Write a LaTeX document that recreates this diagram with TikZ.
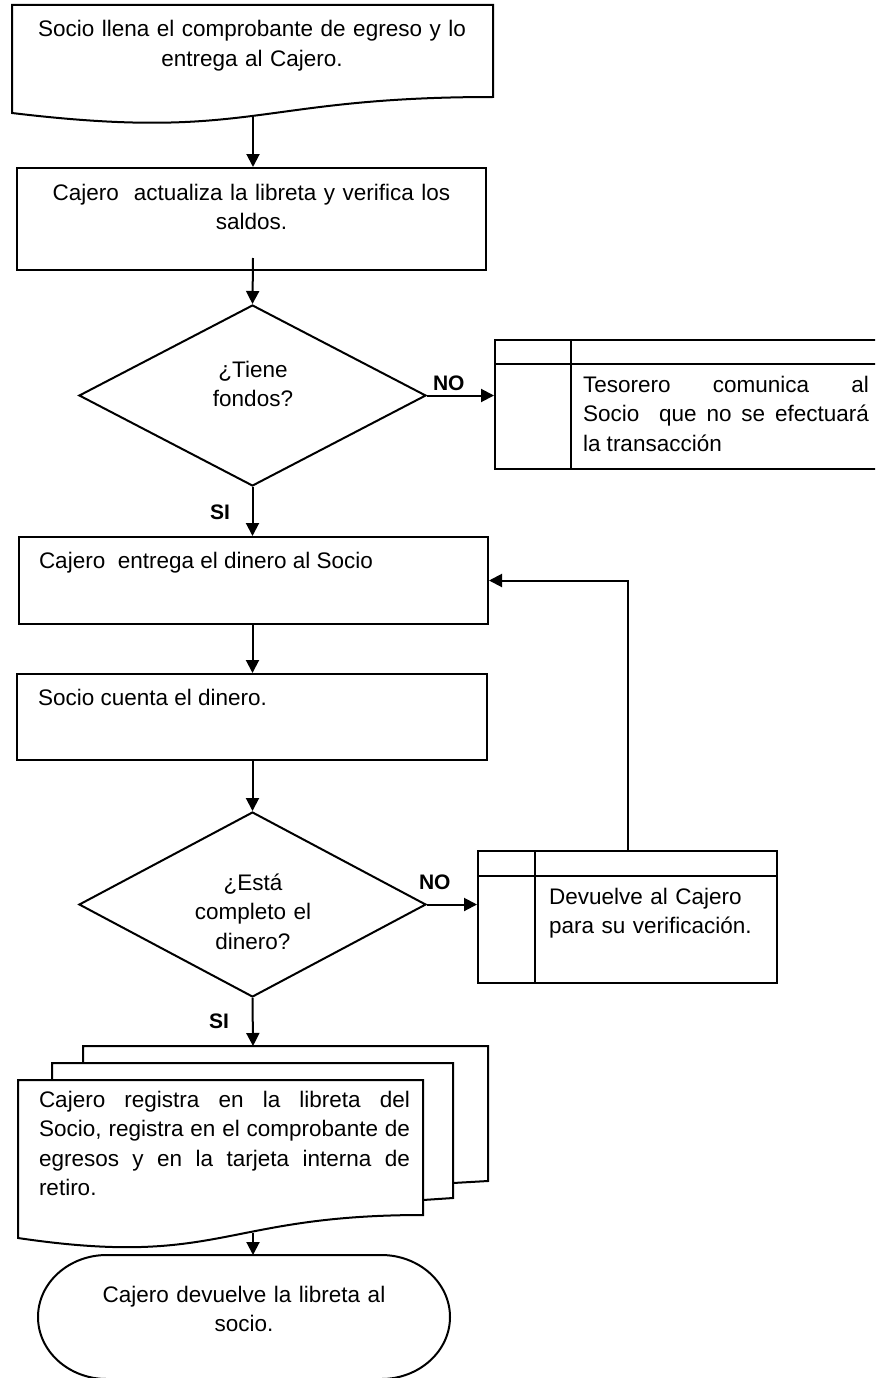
\documentclass[tikz,border=0pt]{standalone}
\usepackage{fontspec}
\setmainfont{Liberation Sans}
\usetikzlibrary{shapes.geometric,arrows.meta}
\hbadness=10000

\begin{document}
\begin{tikzpicture}[x=1pt,y=-1pt,line width=2pt,
    flecha/.style={-{Triangle[length=13pt,width=13pt]}},
    caja/.style={draw,rectangle,inner sep=0pt},
    rombo/.style={draw,diamond,inner sep=0pt},
    texto/.style={font=\fontsize{22.5}{29.5}\selectfont,inner sep=0pt},
    etiq/.style={font=\fontsize{21}{25}\selectfont\bfseries,inner sep=0pt}]
  \useasboundingbox (0,0) rectangle (875,1378);
  \clip (0,0) rectangle (875,1378);

  % documento inicial
  \draw (12,5) -- (493,5) -- (493,97) .. controls (253,97) and (253,142) .. (12,113) -- cycle;
  \node[texto,anchor=base,align=center,text width=470pt] (llena) at (252,37)
    {Socio llena el comprobante de egreso y lo\\entrega al Cajero.};
  \coordinate (llenafin) at (253,117);

  \node[caja,minimum width=469pt,minimum height=102pt] (actualiza) at (251.5,219) {};
  \node[texto,anchor=base,align=center,text width=460pt] (actualizatxt) at (251.5,200)
    {Cajero\ \ actualiza la libreta y verifica los\\saldos.};
  \coordinate (actualizafin) at (253,258);
  \draw[flecha] (llenafin) -- (llenafin |- actualiza.north);

  % primera decision
  \node[rombo,minimum width=347pt,minimum height=181pt] (tiene) at (252.5,395.5) {};
  \node[texto,anchor=base,align=center,text width=200pt] (tienetxt) at (253,377) {¿Tiene\\fondos?};
  \draw[flecha] (actualizafin) -- (tiene.north);

  \node[caja,minimum width=406pt,minimum height=129pt,anchor=north west] (tesorero) at (494,339) {};
  \draw ([yshift=-25pt]tesorero.north west) -- ([yshift=-25pt]tesorero.north east);
  \draw ([xshift=77pt]tesorero.north west) -- ([xshift=77pt]tesorero.south west);
  \node[texto,anchor=base west,text width=286pt,align=justify] (tesorerotxt) at (582,392)
    {Tesorero comunica al\linebreak Socio\ \ que no se efectuará\linebreak la transacción};
  \node[etiq,anchor=base west] (no1) at (432,390) {NO};
  \draw[flecha] (tiene.east) -- (tiene.east -| tesorero.west);

  \node[caja,minimum width=469pt,minimum height=87pt] (entrega) at (253.5,580.5) {};
  \node[texto,anchor=base west] (entregatxt) at (38,568) {Cajero\ \ entrega el dinero al Socio};
  \node[etiq,anchor=base west] (si1) at (209,519) {SI};
  \draw[flecha] (tiene.south) -- (tiene.south |- entrega.north);

  \node[caja,minimum width=470pt,minimum height=86pt] (cuenta) at (252,717) {};
  \node[texto,anchor=base west] (cuentatxt) at (37,705) {Socio cuenta el dinero.};
  \draw[flecha] (tiene.south |- entrega.south) -- (tiene.south |- cuenta.north);

  % segunda decision
  \node[rombo,minimum width=347pt,minimum height=185pt] (completo) at (252.5,904.5) {};
  \node[texto,anchor=base,align=center,text width=200pt] (completotxt) at (253,890)
    {¿Está\\completo el\\dinero?};
  \draw[flecha] (tiene.south |- cuenta.south) -- (completo.north);

  \node[caja,minimum width=299pt,minimum height=132pt] (devuelve) at (627.5,917) {};
  \draw ([yshift=-26pt]devuelve.north west) -- ([yshift=-26pt]devuelve.north east);
  \draw ([xshift=58pt]devuelve.north west) -- ([xshift=58pt]devuelve.south west);
  \node[texto,anchor=base west,align=left,text width=225pt] (devuelvetxt) at (548,904)
    {Devuelve al Cajero\\para su verificación.};
  \node[etiq,anchor=base west] (no2) at (418,889) {NO};
  \draw[flecha] (completo.east) -- (completo.east -| devuelve.west);
  \draw[flecha] (devuelve.north) |- (entrega.east);

  % multidocumento
  \draw (83,1063) -- (83,1046) -- (488,1046) -- (488,1181) -- (453,1183);
  \draw (52,1080) -- (52,1063) -- (453,1063) -- (453,1198) -- (423,1200);
  \draw (18,1080) -- (423,1080) -- (423,1215) .. controls (221,1215) and (221,1268) .. (18,1238) -- cycle;
  \coordinate (registroini) at (253,1046);
  \coordinate (registrofin) at (253,1233);
  \node[texto,anchor=base west,text width=371pt,align=justify] (registrotxt) at (38,1107)
    {Cajero registra en la libreta del\linebreak Socio, registra en el comprobante de\linebreak
     egresos y en la tarjeta interna de\linebreak retiro.};
  \node[etiq,anchor=base west] (si2) at (208,1028) {SI};
  \draw[flecha] (completo.south) -- (registroini);

  % terminal
  \draw (106.7,1255) -- (381.3,1255) .. controls (419.2,1255) and (450,1282.8) .. (450,1317)
    .. controls (450,1351.2) and (419.2,1379) .. (381.3,1379) -- (106.7,1379)
    .. controls (68.8,1379) and (38,1351.2) .. (38,1317)
    .. controls (38,1282.8) and (68.8,1255) .. (106.7,1255) -- cycle;
  \coordinate (finini) at (253,1255);
  \node[texto,anchor=base,align=center,text width=400pt] (fintxt) at (244,1302)
    {Cajero devuelve la libreta al\\socio.};
  \draw[flecha] (registrofin) -- (finini);
\end{tikzpicture}
\end{document}
